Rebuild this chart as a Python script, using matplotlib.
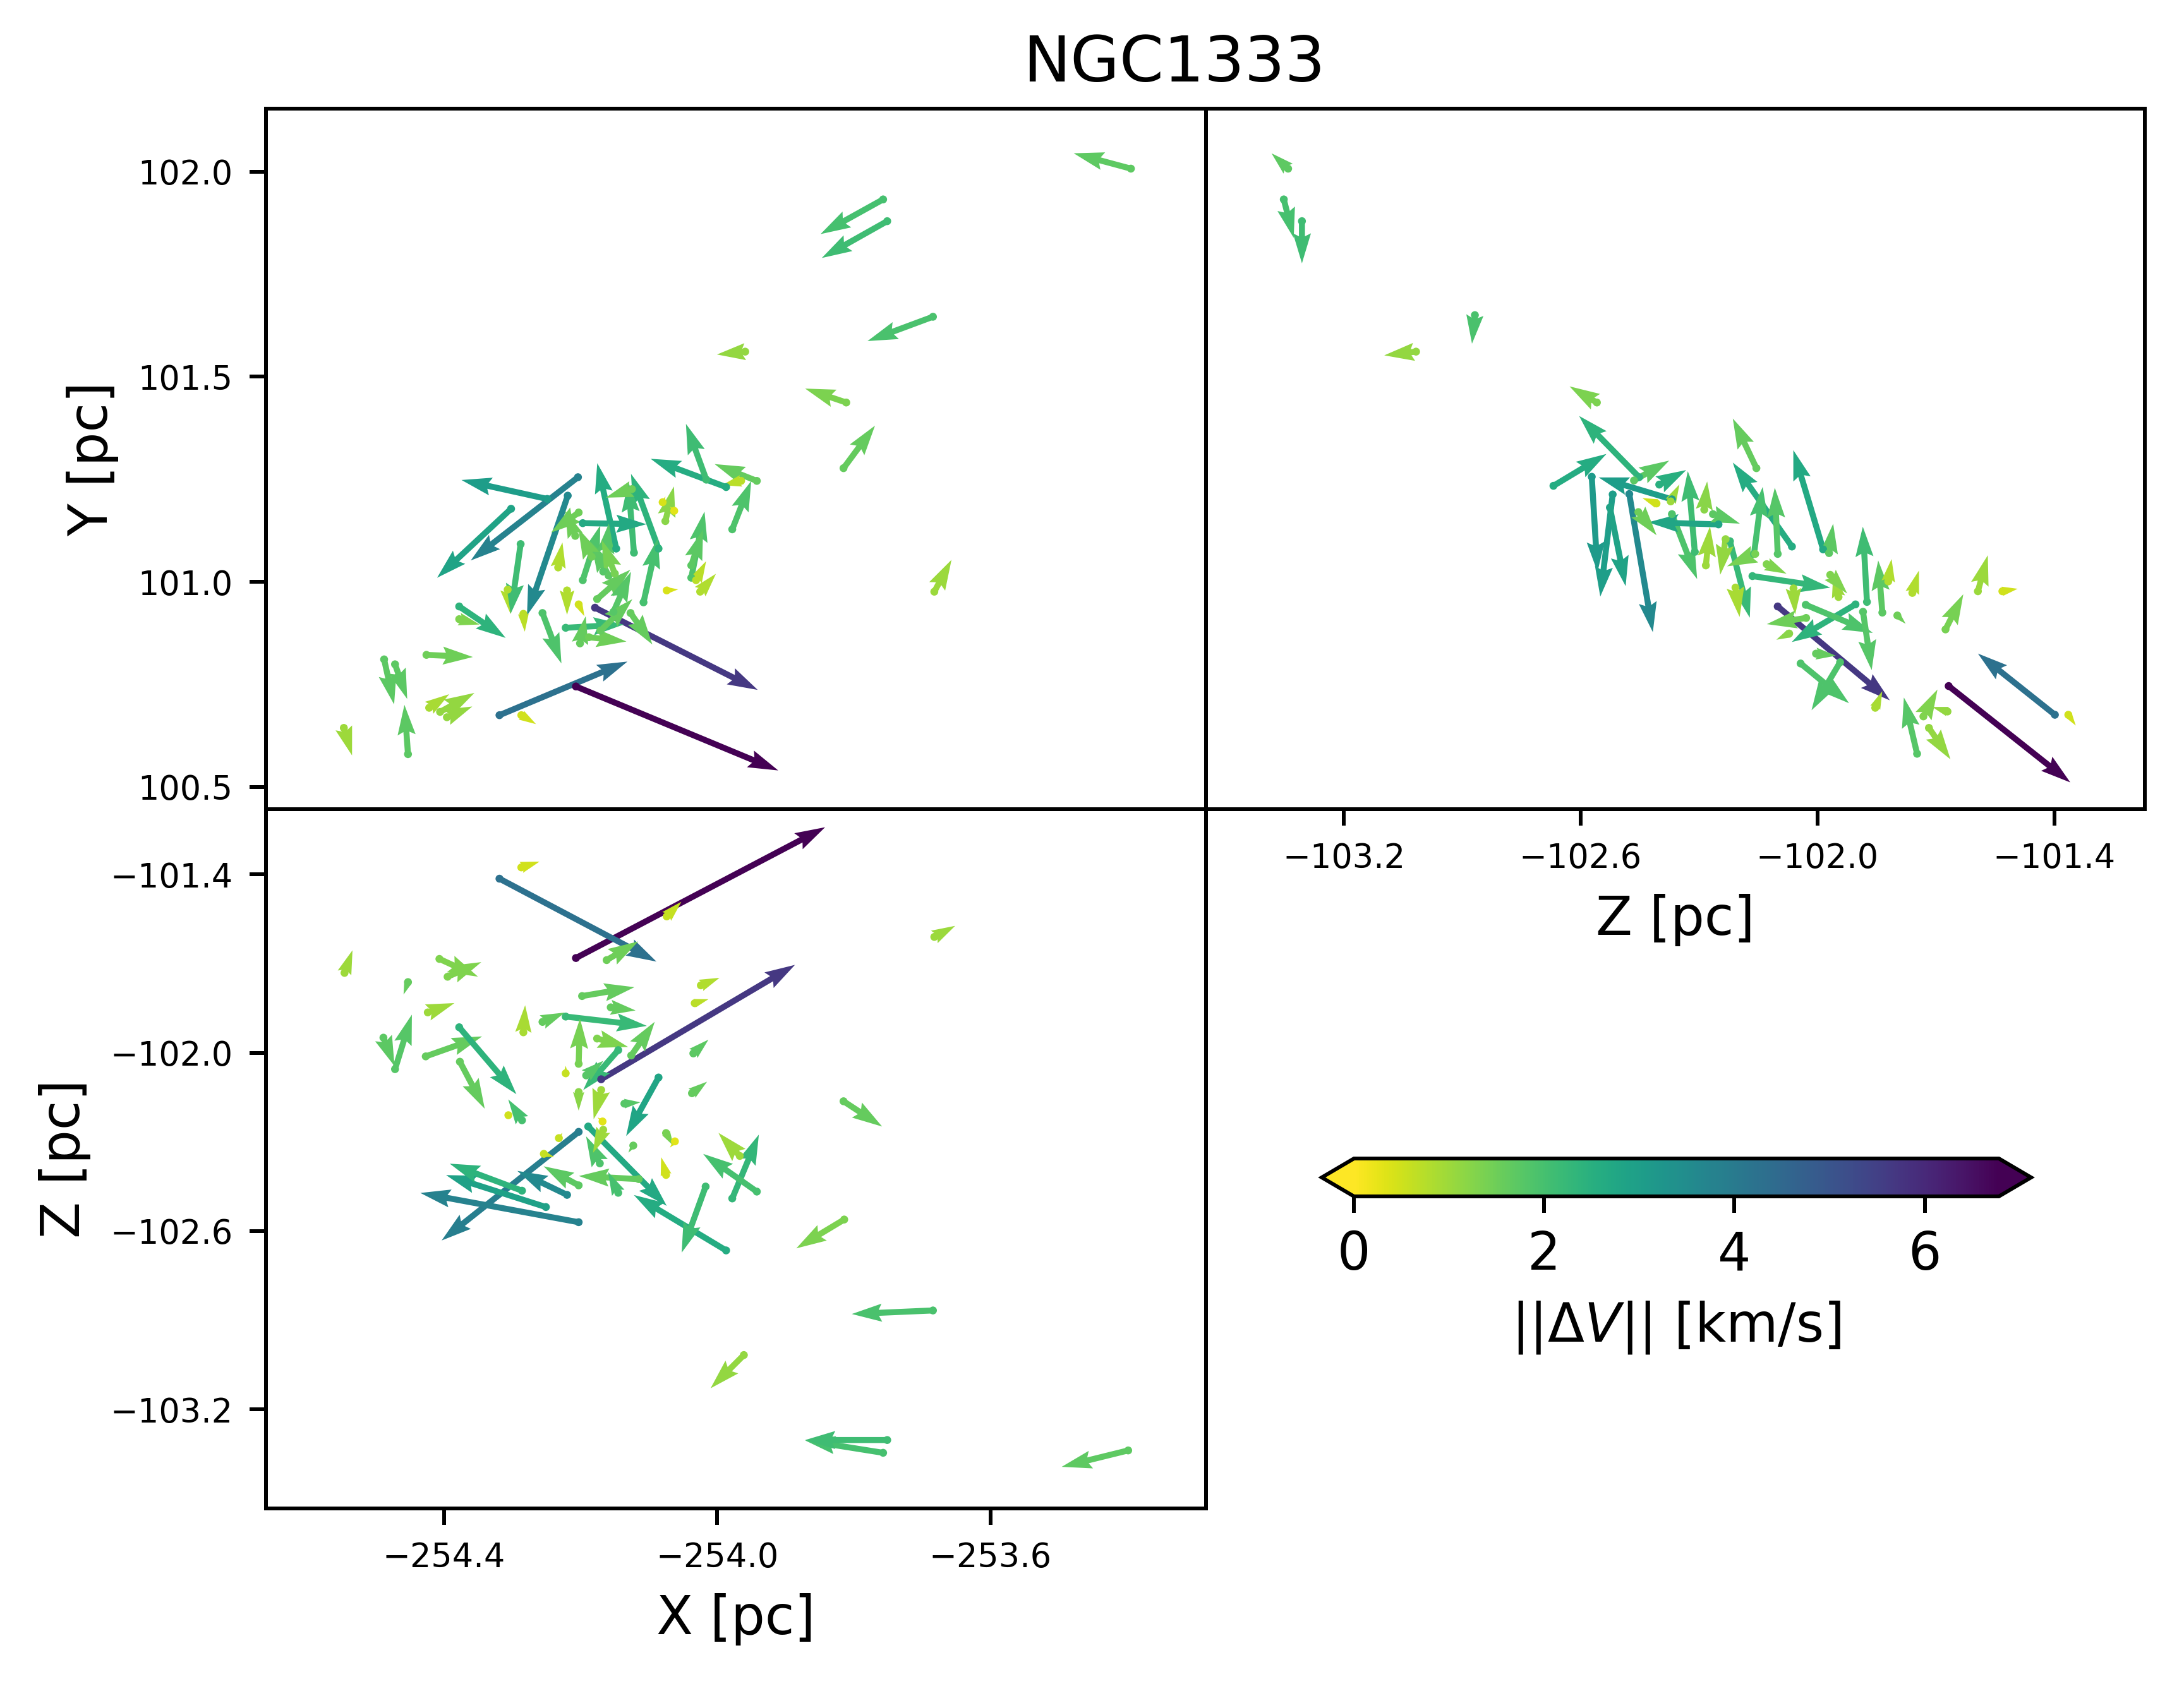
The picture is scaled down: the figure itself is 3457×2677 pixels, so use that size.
import numpy as np
import matplotlib.pyplot as plt
from matplotlib.colors import Normalize
from matplotlib.cm import ScalarMappable

# ---- X-Y projection (top left): positions [pc], velocity components [km/s], |dV| [km/s]
xy_x = [-253.394, -253.757, -253.751, -253.684, -253.959, -253.811, -253.815, -253.682,
        -254.207, -254.179, -254.319, -254.287, -254.249, -254.302, -254.204, -254.219,
        -253.978, -253.942, -253.987, -254.016, -253.965, -254.038, -254.038, -254.025,
        -254.031, -254.076, -254.080, -254.063, -254.074, -254.086, -254.122, -254.108,
        -254.148, -254.197, -254.176, -254.152, -254.220, -254.203, -254.256, -254.284,
        -254.378, -254.378, -254.307, -254.288, -254.203, -254.233, -254.222, -254.201,
        -254.188, -254.171, -254.127, -254.488, -254.472, -254.426, -254.547, -254.453,
        -254.422, -254.406, -254.396, -254.197, -254.208, -254.167, -254.159, -254.184,
        -254.150, -254.125]
xy_y = [102.007, 101.932, 101.879, 101.646, 101.561, 101.437, 101.277, 100.976,
        100.745, 100.937, 100.675, 100.675, 101.202, 101.178, 101.255, 101.210,
        101.128, 101.246, 101.231, 101.249, 101.246, 101.010, 101.040, 100.976,
        101.004, 101.148, 101.194, 101.173, 100.979, 101.081, 101.071, 100.950,
        101.081, 101.004, 100.958, 100.927, 100.979, 100.945, 100.924, 100.922,
        100.940, 100.909, 100.981, 101.092, 101.169, 101.035, 100.888, 100.850,
        100.865, 100.881, 100.924, 100.811, 100.799, 100.822, 100.644, 100.580,
        100.693, 100.683, 100.670, 101.143, 101.112, 101.025, 101.015, 101.061,
        101.020, 101.226]
xy_u = [-1.60, -1.75, -1.83, -1.83, -0.79, -1.15, 0.88, 0.48,
        5.66, 4.55, 3.58, 0.41, -2.40, -2.07, -3.00, -1.14,
        0.53, -1.18, -2.11, -0.57, -0.53, 0.37, 0.33, 0.44,
        0.28, 0.24, 0.08, -0.12, 0.32, -0.77, -0.16, 0.40,
        -0.53, 0.49, 0.93, 0.49, 0.00, 0.16, 0.53, 0.04,
        1.30, 0.57, 0.08, -0.28, -0.77, 0.12, 1.62, 0.16,
        1.05, 0.89, 0.61, 0.28, 0.34, 1.30, 0.23, -0.10,
        0.56, 0.96, 0.71, 1.78, -0.28, 0.16, -0.49, -0.37,
        -0.37, -0.73]
xy_v = [0.43, -0.97, -1.03, -0.68, -0.08, 0.39, 1.19, 0.89,
        -2.35, -2.30, 1.50, -0.25, 0.53, -1.93, -2.33, -3.35,
        1.35, 0.47, 0.79, 1.56, -0.12, 1.85, 1.00, 0.50,
        0.53, 0.97, 0.16, 0.12, 0.03, 2.09, 1.98, 1.79,
        2.39, 1.53, 0.82, 1.12, -0.68, -0.33, -1.41, -0.50,
        -0.88, -0.15, -0.68, -1.95, -0.56, 0.70, 0.09, 0.76,
        -0.12, 0.88, -0.88, -1.26, -0.97, -0.06, -0.77, 1.38,
        0.38, 0.53, 0.30, -0.03, 0.70, 1.35, 0.94, 0.79,
        0.94, -0.24]
xy_dv = [1.68, 2.00, 2.11, 1.95, 1.09, 1.35, 1.59, 1.03,
         6.78, 5.67, 4.28, 0.50, 3.03, 2.85, 3.80, 3.58,
         1.90, 1.60, 2.60, 2.10, 0.70, 1.90, 1.70, 0.80,
         0.70, 1.20, 0.40, 0.30, 0.40, 2.40, 2.10, 2.00,
         2.60, 1.90, 1.60, 1.80, 0.80, 0.50, 1.90, 0.70,
         2.40, 1.30, 0.80, 2.10, 1.50, 0.80, 2.20, 1.60,
         1.50, 1.60, 1.60, 1.70, 1.70, 1.50, 1.00, 1.70,
         0.90, 1.10, 1.10, 2.70, 1.50, 1.80, 1.70, 1.50,
         1.40, 1.50]

# ---- Z-Y projection (top right)
zy_z = [-103.341, -103.352, -103.306, -102.868, -103.017, -102.559, -102.155, -101.594,
        -101.668, -102.101, -101.399, -101.365, -102.452, -102.669, -102.572, -102.369,
        -102.519, -102.526, -102.477, -102.065, -101.986, -102.165, -101.904, -101.875,
        -101.836, -102.222, -102.369, -102.311, -102.161, -102.101, -102.251, -101.971,
        -101.821, -101.760, -101.532, -101.676, -101.798, -102.030, -101.854, -101.748,
        -101.732, -101.671, -101.718, -101.943, -102.043, -101.885, -102.465, -102.401,
        -102.287, -102.372, -102.408, -102.454, -102.283, -102.233, -102.208, -102.265,
        -102.129, -102.158, -102.061, -102.029, -102.072, -102.004, -101.947, -101.968]
zy_y = [102.007, 101.932, 101.879, 101.650, 101.561, 101.437, 101.277, 100.977,
        100.746, 100.940, 100.676, 100.676, 101.255, 101.234, 101.256, 101.201,
        101.213, 101.181, 101.214, 101.086, 101.079, 101.014, 100.945, 100.951,
        100.925, 101.099, 101.165, 101.073, 101.068, 101.068, 101.140, 101.070,
        101.001, 100.973, 100.977, 100.884, 100.918, 100.944, 100.693, 100.581,
        100.672, 100.684, 100.644, 100.804, 100.801, 100.927, 101.247, 101.237,
        101.176, 101.196, 101.191, 101.170, 101.040, 101.104, 100.986, 101.165,
        101.043, 101.068, 100.984, 100.912, 100.874, 100.825, 100.963, 101.017]
zy_u = [-0.40, 0.24, 0.00, -0.07, -0.77, -0.66, -0.57, 0.24,
        2.94, 2.71, -1.86, 0.18, -1.45, 1.28, 0.14, -1.77,
        -0.30, 0.38, 0.57, -1.43, -0.72, 1.88, -1.54, -0.10,
        -0.10, 0.48, 0.61, -0.17, 0.21, -0.07, -1.70, 0.10,
        0.08, 0.16, 0.37, 0.43, 0.20, 1.62, 0.17, -0.32,
        0.34, -0.37, 0.52, -0.69, 1.17, 0.21, 0.85, 0.65,
        0.07, 0.21, -0.34, 0.44, 0.10, -0.13, 0.10, 0.65,
        0.48, -0.68, 0.04, -0.95, -0.31, 0.48, -0.13, 0.41]
zy_v = [0.37, -0.93, -1.02, -0.69, -0.09, 0.39, 1.20, 0.87,
        -2.33, -2.27, 1.48, -0.26, 1.48, 0.77, -2.30, 0.53,
        -2.47, -1.90, -3.34, 2.03, 2.40, -0.28, -0.91, 1.82,
        1.26, -1.85, -1.57, 1.95, 1.62, 1.60, 0.05, 0.71,
        0.54, 0.54, 0.06, 0.85, -0.20, -0.68, 0.40, 1.36,
        0.65, 0.11, -0.76, -1.16, -0.96, -1.41, 0.48, 0.35,
        0.68, 0.41, 0.13, -0.56, 0.94, -0.86, -0.71, -0.23,
        -0.23, -0.30, -0.63, -0.15, -0.15, -0.05, 0.53, -0.45]
zy_dv = [1.68, 2.00, 2.11, 1.95, 1.09, 1.35, 1.59, 1.03,
         6.78, 5.67, 4.28, 0.50, 2.40, 2.60, 3.10, 3.03,
         3.00, 2.85, 3.58, 2.60, 2.70, 2.30, 2.40, 2.10,
         1.70, 2.20, 1.90, 2.10, 2.00, 1.80, 2.80, 1.70,
         0.80, 0.80, 0.50, 1.40, 1.50, 1.90, 0.90, 1.80,
         1.30, 1.10, 1.10, 1.90, 1.90, 1.80, 1.70, 2.50,
         1.20, 1.00, 0.50, 1.50, 1.00, 1.10, 0.90, 1.70,
         1.30, 1.40, 1.00, 1.50, 1.20, 1.60, 1.00, 1.30]

# ---- X-Z projection (bottom left)
xz_x = [-253.398, -253.757, -253.751, -253.684, -253.961, -253.814, -253.815, -253.682,
        -254.207, -254.170, -254.319, -254.287, -253.978, -253.942, -253.967, -253.987,
        -254.017, -254.189, -254.203, -254.203, -254.251, -254.220, -254.286, -254.203,
        -254.115, -254.145, -254.172, -254.168, -254.167, -254.075, -254.062, -254.075,
        -254.123, -254.232, -254.254, -254.222, -254.286, -254.306, -254.035, -254.037,
        -254.024, -254.033, -254.086, -254.126, -254.222, -254.198, -254.156, -254.256,
        -254.284, -254.203, -254.176, -254.145, -254.203, -254.192, -254.170, -254.136,
        -254.407, -254.395, -254.453, -254.424, -254.489, -254.472, -254.427, -254.378,
        -254.377, -254.546, -254.074, -254.162]
xz_z = [-103.338, -103.346, -103.303, -102.867, -103.017, -102.561, -102.163, -101.610,
        -101.681, -102.089, -101.414, -101.376, -102.490, -102.467, -102.347, -102.665,
        -102.450, -102.248, -102.266, -102.570, -102.519, -102.478, -102.464, -102.446,
        -102.425, -102.471, -102.372, -102.231, -102.259, -102.411, -102.298, -102.270,
        -102.312, -102.287, -102.340, -102.069, -102.227, -102.210, -102.002, -102.136,
        -101.773, -101.833, -102.083, -102.009, -101.878, -101.809, -101.847, -101.896,
        -101.931, -102.037, -101.952, -101.991, -102.132, -102.076, -102.125, -102.171,
        -101.684, -101.744, -101.762, -101.864, -101.949, -102.055, -102.012, -101.914,
        -102.030, -101.731, -101.541, -101.688]
xz_u = [-1.50, -1.76, -1.85, -1.83, -0.75, -1.08, 0.87, 0.47,
        5.62, 4.37, 3.54, 0.41, 0.60, -1.21, -0.48, -2.08,
        -0.54, 1.77, -3.09, -3.57, -2.25, -1.12, -1.63, -0.79,
        -1.35, -0.23, -0.31, -0.11, -0.23, -0.11, -0.11, 0.17,
        -0.11, 0.08, 0.23, 0.00, -0.31, 0.03, 0.34, 0.34,
        0.42, 0.31, -0.73, 0.53, 1.83, 1.18, 0.56, 0.50,
        0.04, 0.03, 0.70, -0.79, 0.00, 0.39, -0.17, 0.36,
        0.87, 0.76, -0.10, 0.60, 0.25, 0.38, 1.27, 1.29,
        0.56, 0.18, 0.33, 0.71]
xz_v = [-0.37, 0.28, 0.00, -0.08, -0.75, -0.65, -0.57, 0.25,
        2.95, 2.58, -1.87, 0.13, 1.44, 0.85, 0.52, 1.25,
        -1.49, -1.79, -2.45, 0.66, 0.72, 0.54, 0.61, 0.43,
        0.07, 0.47, 0.61, 0.09, -0.52, 0.40, -0.14, -0.29,
        -0.16, 0.12, -0.07, 0.17, 0.47, 0.12, 0.31, 0.26,
        0.17, 0.09, -1.32, 0.76, -0.21, 0.20, -0.07, 0.21,
        0.61, 1.02, -0.19, -0.90, -0.42, 0.33, -0.66, 0.03,
        -0.40, 0.33, -0.28, 0.21, -0.64, 1.23, 0.45, -1.51,
        -1.06, 0.51, 0.33, 0.42]
xz_dv = [1.68, 2.00, 2.11, 1.95, 1.09, 1.35, 1.59, 1.03,
         6.78, 5.67, 4.28, 0.50, 2.30, 2.00, 1.00, 2.60,
         2.10, 2.70, 3.90, 3.80, 2.90, 3.58, 2.40, 1.70,
         1.60, 2.00, 1.90, 0.30, 1.00, 0.50, 0.30, 1.40,
         1.60, 0.60, 0.60, 0.60, 2.00, 0.50, 1.70, 1.60,
         0.80, 0.70, 2.80, 1.60, 2.20, 1.60, 1.60, 1.60,
         0.90, 1.40, 1.30, 2.20, 1.20, 1.80, 1.00, 1.80,
         1.30, 1.30, 1.60, 1.00, 1.70, 1.80, 1.60, 2.40,
         1.60, 1.00, 0.60, 1.50]

cmap = 'viridis_r'
norm = Normalize(vmin=0, vmax=6.78)

fig = plt.figure(figsize=(3457 / 540, 2677 / 540), dpi=540)
ax_xy = fig.add_axes([0.1218, 0.5215, 0.4304, 0.4142])
ax_zy = fig.add_axes([0.5522, 0.5215, 0.4299, 0.4142], sharey=ax_xy)
ax_xz = fig.add_axes([0.1218, 0.1080, 0.4304, 0.4135], sharex=ax_xy)


def arrows(ax, a, b, u, v, c, scale):
    ax.quiver(a, b, u, v, c, cmap=cmap, norm=norm, scale=scale, width=0.0064)
    ax.scatter(a, b, c=c, cmap=cmap, norm=norm, s=2.8, linewidths=0, zorder=3)


arrows(ax_xy, xy_x, xy_y, xy_u, xy_v, xy_dv, 26.3)
arrows(ax_zy, zy_z, zy_y, zy_u, zy_v, zy_dv, 22.7)
arrows(ax_xz, xz_x, xz_z, xz_u, xz_v, xz_dv, 21.2)

ax_xy.set_xlim(-254.661, -253.284)
ax_xy.set_ylim(100.446, 102.153)
ax_zy.set_xlim(-103.549, -101.171)
ax_xz.set_ylim(-103.533, -101.180)

ax_xy.set_yticks([100.5, 101.0, 101.5, 102.0])
ax_xz.set_xticks([-254.4, -254.0, -253.6])
ax_xz.set_yticks([-101.4, -102.0, -102.6, -103.2])
ax_zy.set_xticks([-103.2, -102.6, -102.0, -101.4])

for ax in (ax_xy, ax_zy, ax_xz):
    ax.tick_params(labelsize=7)
ax_xy.tick_params(bottom=False, labelbottom=False)
ax_zy.tick_params(left=False, labelleft=False)

ax_xy.set_ylabel('Y [pc]', fontsize=11.3)
ax_zy.set_xlabel('Z [pc]', fontsize=11.3)
ax_xz.set_xlabel('X [pc]', fontsize=11.3)
ax_xz.set_ylabel('Z [pc]', fontsize=11.3)

fig.text(0.5376, 0.962, 'NGC1333', ha='center', va='center', fontsize=13.4)

cax = fig.add_axes([0.6052, 0.2925, 0.3248, 0.0224])
cb = fig.colorbar(ScalarMappable(norm=norm, cmap=cmap), cax=cax,
                  orientation='horizontal', extend='both')
cb.set_ticks([0, 2, 4, 6])
cb.ax.tick_params(labelsize=11)
cb.set_label(r'$||\Delta V||$ [km/s]', fontsize=11.3)

fig.savefig('out.png', dpi=540)
